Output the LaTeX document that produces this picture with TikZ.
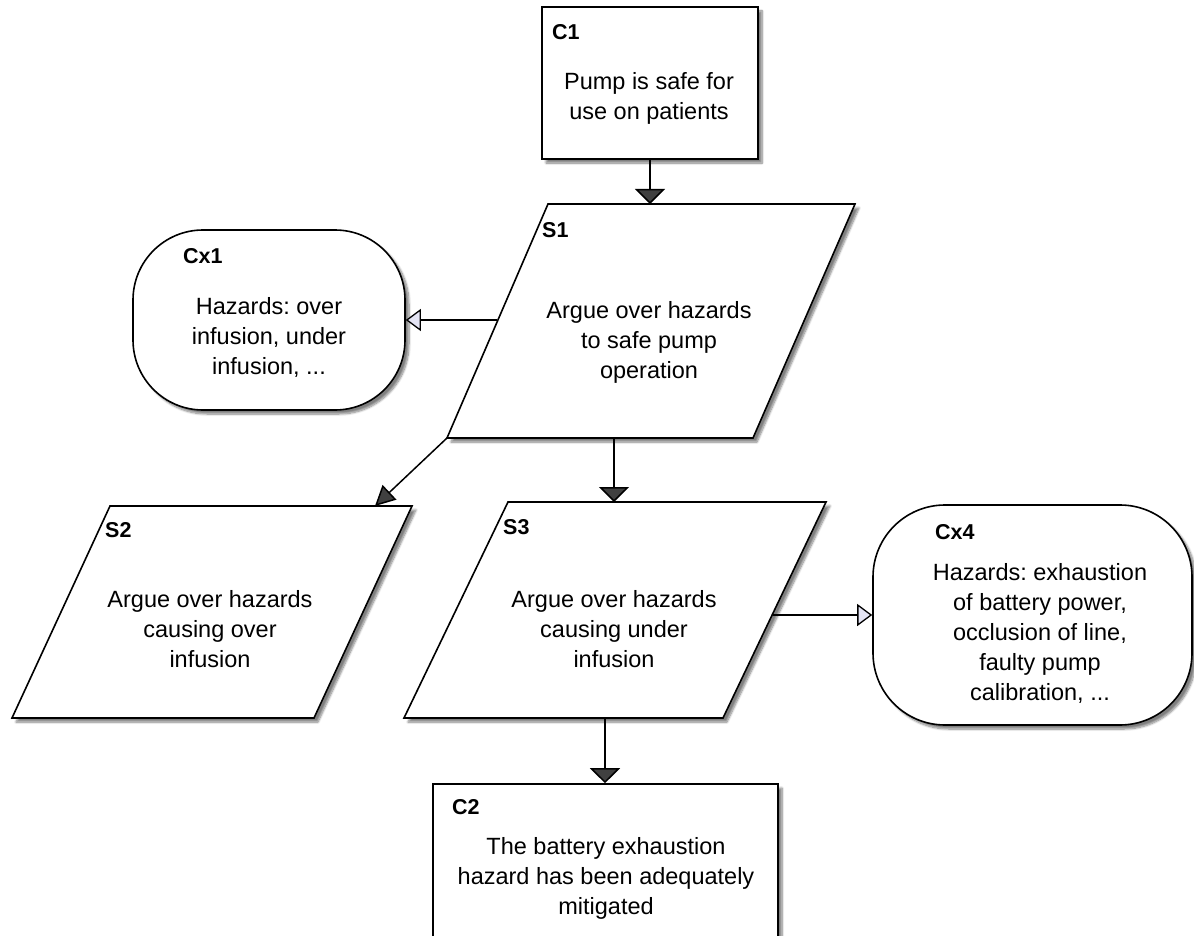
\documentclass[tikz,border=0pt]{standalone}
\usepackage{fontspec}
\setmainfont{Liberation Sans}
\usetikzlibrary{arrows.meta,shadows.blur}
\definecolor{openfill}{HTML}{E4E4F4}
\frenchspacing
\begin{document}
\begin{tikzpicture}[x=1pt,y=-1pt,
  shade/.style={blur shadow={shadow xshift=4pt,shadow yshift=-4pt,shadow blur steps=8,shadow opacity=50}},
  box/.style={draw,line width=1.6pt,fill=white,shade,inner sep=0pt},
  lbl/.style={anchor=west,inner sep=0pt,font=\bfseries\fontsize{21.5}{25}\selectfont},
  txt/.style={align=center,inner sep=0pt,font=\fontsize{23.5}{30}\selectfont},
  arr/.style={line width=1.5pt,-{Triangle[width=30pt,length=15pt]}},
  darr/.style={line width=1.5pt,-{Triangle[width=20pt,length=20pt]}},
  oarr/.style={line width=1.3pt,-{Triangle[width=22pt,length=15pt,fill=openfill]}}]
\useasboundingbox (0,0) rectangle (1194,936);

% C1
\node[box,minimum width=216pt,minimum height=152pt] (C1) at (650,83) {};
\node[lbl] (C1l) at (552,32) {C1};
\node[txt] (C1t) at (649,98) {Pump is safe for\\use on patients};

% S1
\draw[box] (548,204) -- (855,204) -- (753,438) -- (447,438) -- cycle;
\node[lbl] (S1l) at (542,230) {S1};
\node[txt] (S1t) at (649,342) {Argue over hazards\\to safe pump\\operation};
\coordinate (S1top) at (650,204);
\coordinate (S1left) at (497,320);
\coordinate (S1bl) at (447,438);
\coordinate (S1bot) at (614,438);

% Cx1
\node[box,rounded corners=70pt,minimum width=272pt,minimum height=180pt] (Cx1) at (269,320) {};
\node[lbl] (Cx1l) at (183,256) {Cx1};
\node[txt] (Cx1t) at (269,337) {Hazards: over\\infusion, under\\infusion, ...};

% S2
\draw[box] (110,506) -- (412,506) -- (314,718) -- (12,718) -- cycle;
\node[lbl] (S2l) at (105,530) {S2};
\node[txt] (S2t) at (210,629) {Argue over hazards\\causing over\\infusion};
\coordinate (S2in) at (375,506);

% S3
\draw[box] (508,502) -- (826,502) -- (723,718) -- (404,718) -- cycle;
\node[lbl] (S3l) at (503,527) {S3};
\node[txt] (S3t) at (614,629) {Argue over hazards\\causing under\\infusion};
\coordinate (S3top) at (614,502);
\coordinate (S3right) at (773,615);
\coordinate (S3bot) at (605,718);

% Cx4
\node[box,rounded corners=72pt,minimum width=319pt,minimum height=220pt] (Cx4) at (1032.5,615) {};
\node[lbl] (Cx4l) at (935,532) {Cx4};
\node[txt] (Cx4t) at (1040,633) {Hazards: exhaustion\\of battery power,\\occlusion of line,\\faulty pump\\calibration, ...};

% C2
\node[box,minimum width=345pt,minimum height=220pt] (C2) at (605.5,894) {};
\node[lbl] (C2l) at (452,807) {C2};
\node[txt] (C2t) at (606,878) {The battery exhaustion\\hazard has been adequately\\mitigated};

% connectors
\draw[arr] (C1.south) -- (S1top);
\draw[oarr] (S1left) -- (Cx1.east);
\draw[darr] (S1bl) -- (S2in);
\draw[arr] (S1bot) -- (S3top);
\draw[oarr] (S3right) -- (Cx4.west);
\draw[arr] (S3bot) -- (S3bot |- C2.north);
\end{tikzpicture}
\end{document}
